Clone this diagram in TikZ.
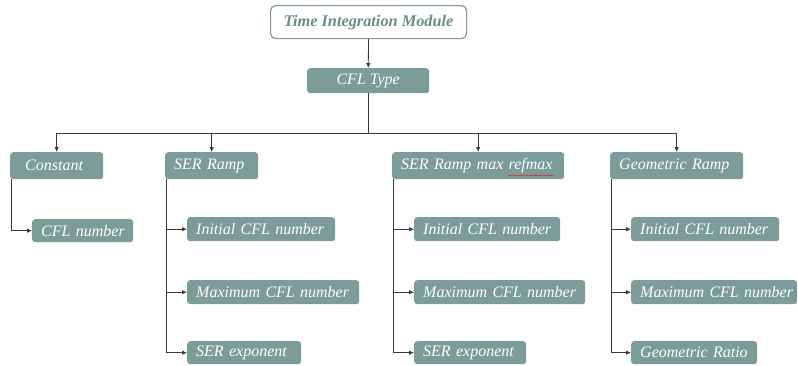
\documentclass[tikz,border=0pt]{standalone}
\usepackage{fontspec}
\setmainfont{Liberation Serif}
\usetikzlibrary{arrows.meta,decorations.pathmorphing}
\definecolor{teal1}{HTML}{7B9C98}
\definecolor{tealtxt}{HTML}{6A8C88}
\definecolor{linec}{HTML}{3A3A3A}
\definecolor{spellred}{HTML}{D03030}
\tikzset{
  bx/.style={fill=teal1, rounded corners=3pt, anchor=north west, inner xsep=9pt, inner ysep=0pt,
    font=\itshape\fontsize{16}{18}\selectfont, text=white, align=left},
  arr/.style={draw=linec, line width=0.8pt, -{Latex[length=5pt,width=4.5pt]}},
  ln/.style={draw=linec, line width=0.8pt},
}
\begin{document}
\begin{tikzpicture}[x=1pt,y=-1pt]
\useasboundingbox (0,0) rectangle (798,365);
% top
\node[draw=teal1, line width=1.2pt, fill=white, rounded corners=5pt, anchor=north west,
  minimum width=196pt, minimum height=33pt, inner sep=0pt,
  font=\bfseries\itshape\fontsize{16.3}{18}\selectfont, text=tealtxt] (top) at (270,5) {Time Integration Module};
\node[bx, minimum width=122pt, minimum height=25pt, inner xsep=0pt, align=center] (cfl) at (307,68) {CFL Type};
% level 2
\node[bx, minimum height=27pt, text width=75pt] (cst) at (10,152) {\mbox{\hspace*{6pt}Constant}};
\node[bx, minimum height=27pt, text width=75pt] (ser) at (165,152) {\mbox{SER Ramp}};
\node[bx, minimum height=27pt, text width=154pt] (serm) at (392,152) {\mbox{SER Ramp max refmax}};
\node[bx, minimum height=27pt, text width=115pt] (geo) at (610,152) {\mbox{Geometric Ramp}};
% level 3
\node[bx, minimum height=23pt, text width=83pt] (c1) at (32,219) {\mbox{CFL number}};
\node[bx, minimum height=24pt, text width=130pt] (s1) at (187,217) {\mbox{Initial CFL number}};
\node[bx, minimum height=24pt, text width=154pt] (s2) at (187,280) {\mbox{Maximum CFL number}};
\node[bx, minimum height=23pt, text width=96pt] (s3) at (187,341) {\mbox{SER exponent}};
\node[bx, minimum height=24pt, text width=128pt] (m1) at (414,217) {\mbox{Initial CFL number}};
\node[bx, minimum height=24pt, text width=153pt] (m2) at (414,280) {\mbox{Maximum CFL number}};
\node[bx, minimum height=23pt, text width=94pt] (m3) at (414,341) {\mbox{SER exponent}};
\node[bx, minimum height=24pt, text width=130pt] (g1) at (631,217) {\mbox{Initial CFL number}};
\node[bx, minimum height=24pt, text width=148pt] (g2) at (631,280) {\mbox{Maximum CFL number}};
\node[bx, minimum height=23pt, text width=108pt] (g3) at (631,341) {\mbox{Geometric Ratio}};
% spell-check underline
\draw[spellred, line width=0.5pt, decorate, decoration={snake, amplitude=0.6pt, segment length=3pt}]
  ([xshift=116pt,yshift=4pt]serm.south west) -- ([xshift=162pt,yshift=4pt]serm.south west);
% connectors
\coordinate (bus) at (0,133);
\draw[arr] (top) -- (cfl);
\draw[ln] (cfl.south) -- (cfl.south |- bus);
\draw[ln] (cst.north |- bus) -- (geo.north |- bus);
\draw[arr] (cst.north |- bus) -- (cst.north);
\draw[arr] (ser.north |- bus) -- (ser.north);
\draw[arr] (serm.north |- bus) -- (serm.north);
\draw[arr] (geo.north |- bus) -- (geo.north);
\draw[arr] ([xshift=1pt]cst.south west) |- (c1.west);
\draw[arr] ([xshift=1pt]ser.south west) |- (s1.west);
\draw[arr] ([xshift=1pt]ser.south west) |- (s2.west);
\draw[arr] ([xshift=1pt]ser.south west) |- (s3.west);
\draw[arr] ([xshift=1pt]serm.south west) |- (m1.west);
\draw[arr] ([xshift=1pt]serm.south west) |- (m2.west);
\draw[arr] ([xshift=1pt]serm.south west) |- (m3.west);
\draw[arr] ([xshift=1pt]geo.south west) |- (g1.west);
\draw[arr] ([xshift=1pt]geo.south west) |- (g2.west);
\draw[arr] ([xshift=1pt]geo.south west) |- (g3.west);
\end{tikzpicture}
\end{document}
